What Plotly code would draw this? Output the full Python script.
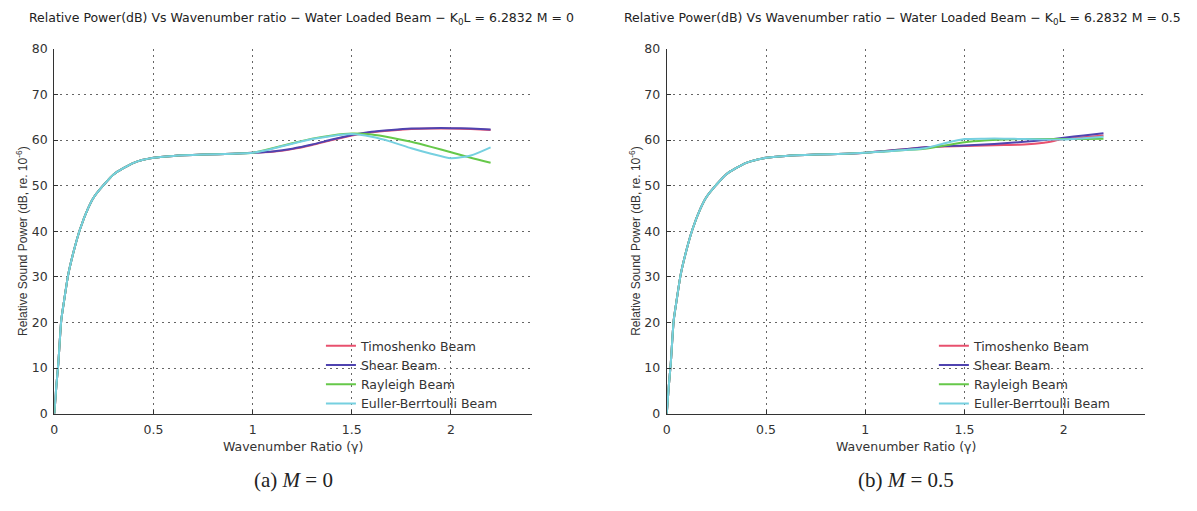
import plotly.graph_objects as go

# ---------------- data ----------------
series_names = ["Timoshenko Beam", "Shear Beam", "Rayleigh Beam", "Euller-Berrtoulli Beam"]
series_colors = ["#e8506e", "#4f43b0", "#66c84a", "#76d0e0"]

# common low-ratio part (all beams coincide)
x_common = [0, 0.01, 0.02, 0.035, 0.05, 0.07, 0.1, 0.13, 0.17, 0.2, 0.25, 0.3, 0.4, 0.5, 0.6, 0.75, 0.9, 1.0]
y_common = [0, 6, 11, 20.5, 25, 30.5, 36, 40.5, 45, 47.5, 50.2, 52.5, 55, 56.1, 56.5, 56.8, 57.0, 57.2]

x_high = [1.1, 1.2, 1.3, 1.4, 1.5, 1.6, 1.7, 1.8, 1.9, 2.0, 2.1, 2.2]

# panel (a) M = 0
a_timoshenko = [57.4, 58.0, 58.9, 60.0, 61.0, 61.7, 62.1, 62.4, 62.5, 62.5, 62.4, 62.2]
a_shear      = [57.5, 58.1, 59.0, 60.1, 61.1, 61.8, 62.2, 62.5, 62.6, 62.6, 62.5, 62.3]
a_rayleigh   = [58.2, 59.3, 60.3, 61.0, 61.4, 61.2, 60.5, 59.6, 58.5, 57.3, 56.1, 55.0]
a_euler      = [58.1, 59.2, 60.2, 60.9, 61.3, 60.7, 59.6, 58.2, 57.0, 56.0, 56.6, 58.4]

# panel (b) M = 0.5
b_timoshenko = [57.6, 58.0, 58.4, 58.6, 58.7, 58.8, 58.9, 59.0, 59.4, 60.2, 60.6, 61.0]
b_shear      = [57.6, 58.0, 58.4, 58.7, 58.8, 59.0, 59.3, 59.6, 60.0, 60.5, 61.0, 61.5]
b_rayleigh   = [57.5, 57.8, 58.1, 58.8, 59.5, 59.9, 60.1, 60.2, 60.2, 60.2, 60.2, 60.3]
b_euler      = [57.5, 57.8, 58.2, 59.3, 60.2, 60.3, 60.3, 60.2, 60.1, 60.1, 60.4, 60.7]

x_ticks = [0, 0.5, 1, 1.5, 2]
x_tick_labels = ["0", "0.5", "1", "1.5", "2"]
y_ticks = [0, 10, 20, 30, 40, 50, 60, 70, 80]

titles = [
    "Relative Power(dB) Vs Wavenumber ratio − Water Loaded Beam − K<sub>0</sub>L = 6.2832 M = 0",
    "Relative Power(dB) Vs Wavenumber ratio − Water Loaded Beam − K<sub>0</sub>L = 6.2832 M = 0.5",
]
captions = ["(a) <i>M</i> = 0", "(b) <i>M</i> = 0.5"]
x_title = "Wavenumber Ratio (γ)"
y_title = "Relative Sound Power (dB, re. 10<sup>-6</sup>)"

# ---------------- figure ----------------
W, H = 1197, 511
fig = go.Figure()

panels = [
    ([a_timoshenko, a_shear, a_rayleigh, a_euler], "x", "y", "legend"),
    ([b_timoshenko, b_shear, b_rayleigh, b_euler], "x2", "y2", "legend2"),
]
for vals, xa, ya, lg in panels:
    for name, col, v in zip(series_names, series_colors, vals):
        fig.add_trace(go.Scatter(
            x=x_common + x_high, y=y_common + v, mode="lines", name=name,
            line=dict(color=col, width=2, shape="spline", smoothing=0.6),
            xaxis=xa, yaxis=ya, legend=lg, showlegend=True))

px = lambda p: p / W
py = lambda p: 1 - p / H

dom_x = [(50.5, 530), (665, 1145)]
dom_y = [py(418), py(42)]

HFONT = "DejaVu Sans, Liberation Sans, Arial"
axis_common = dict(
    showline=True, linecolor="#333333", linewidth=1.3, mirror=False,
    ticks="inside", ticklen=4, tickcolor="#333333",
    showgrid=True, gridcolor="#666666", griddash="2px,4px", gridwidth=1,
    zeroline=False, tickfont=dict(family=HFONT, size=12.5, color="#333333"),
)
for i, (l, r) in enumerate(dom_x):
    sfx = "" if i == 0 else "2"
    fig.layout["xaxis" + sfx] = dict(axis_common, domain=[px(l), px(r)], range=[0, 2.41],
                                     tickvals=x_ticks, ticktext=x_tick_labels,
                                     ticklabelstandoff=4, anchor="y" + sfx)
    fig.layout["yaxis" + sfx] = dict(axis_common, domain=dom_y, range=[0, 80],
                                     tickvals=y_ticks, ticklabelstandoff=3, anchor="x" + sfx)

legend_common = dict(bgcolor="rgba(0,0,0,0)", borderwidth=0,
                     font=dict(family=HFONT, size=12.5, color="#333333"),
                     xanchor="left", yanchor="top", tracegroupgap=0, itemwidth=30)
fig.update_layout(
    legend=dict(legend_common, x=px(318), y=py(333)),
    legend2=dict(legend_common, x=px(933), y=py(333)),
)

ann = []
centers = [(50.5 + 530) / 2, (665 + 1145) / 2]
title_centers = [298, 902]
y_title_x = [18, 633]
for i in range(2):
    ann.append(dict(text=titles[i], x=px(title_centers[i]), y=py(11), xref="paper", yref="paper",
                    showarrow=False, xanchor="center", yanchor="middle",
                    font=dict(family=HFONT, size=12.5, color="#222222")))
    ann.append(dict(text=x_title, x=px(centers[i]), y=py(452), xref="paper", yref="paper",
                    showarrow=False, xanchor="center", yanchor="middle",
                    font=dict(family=HFONT, size=12.5, color="#333333")))
    ann.append(dict(text=y_title, x=px(y_title_x[i]), y=py(240), xref="paper", yref="paper",
                    showarrow=False, xanchor="center", yanchor="middle", textangle=-90,
                    font=dict(family="Liberation Sans, Arial", size=12, color="#333333")))
    ann.append(dict(text=captions[i], x=px(centers[i]), y=py(486), xref="paper", yref="paper",
                    showarrow=False, xanchor="center", yanchor="middle",
                    font=dict(family="Liberation Serif, Times New Roman", size=21, color="#222222")))

fig.update_layout(
    width=W, height=H, margin=dict(l=0, r=0, t=0, b=0),
    paper_bgcolor="white", plot_bgcolor="white",
    annotations=ann,
)

fig.write_html("out.html")
